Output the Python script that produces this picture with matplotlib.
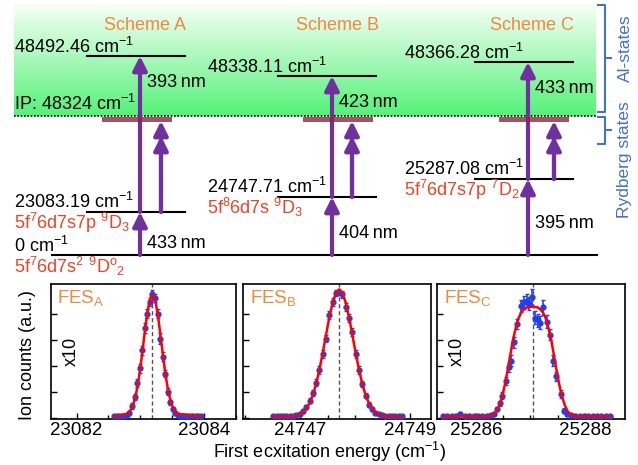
import numpy as np
import matplotlib
matplotlib.use("Agg")
import matplotlib.pyplot as plt

plt.rcParams["font.family"] = ["Liberation Sans", "DejaVu Sans"]
plt.rcParams["mathtext.fontset"] = "custom"
plt.rcParams["mathtext.rm"] = "Liberation Sans"
plt.rcParams["mathtext.it"] = "Liberation Sans:italic"
plt.rcParams["mathtext.default"] = "regular"

# ---------------- level scheme data ----------------
schemes = ["Scheme A", "Scheme B", "Scheme C"]
top_levels = [48492.46, 48338.11, 48366.28]
mid_levels = [23083.19, 24747.71, 25287.08]
ip_level = 48324
first_nm = [433, 404, 395]
second_nm = [393, 423, 433]
mid_states = [r"5f$^7$6d7s7p $^9$D$_3$", r"5f$^8$6d7s $^9$D$_3$", r"5f$^7$6d7s7p $^7$D$_2$"]
ground_state = r"5f$^7$6d7s$^2$ $^9$D$^o$$_2$"
fes_names = ["A", "B", "C"]

# ---------------- FES scan data (normalised ion counts) ----------------
xa = [23082.59, 23082.63, 23082.67, 23082.71, 23082.75, 23082.79, 23082.83, 23082.87,
      23082.91, 23082.95, 23082.99, 23083.03, 23083.07, 23083.11, 23083.15, 23083.19,
      23083.23, 23083.27, 23083.31, 23083.35, 23083.39, 23083.43, 23083.47, 23083.51,
      23083.55, 23083.59, 23083.63, 23083.67, 23083.71, 23083.75, 23083.79, 23083.83,
      23083.87, 23083.91, 23083.95]
ya = [0.01, 0.01, 0.012, 0.01, 0.013, 0.02, 0.04, 0.09, 0.16, 0.27, 0.38, 0.52,
      0.69, 0.80, 0.89, 0.95, 0.92, 0.80, 0.61, 0.47, 0.34, 0.20, 0.12, 0.07,
      0.035, 0.02, 0.015, 0.012, 0.01, 0.01, 0.01, 0.01, 0.012, 0.01, 0.01]
ea = [0.008, 0.008, 0.008, 0.008, 0.008, 0.01, 0.015, 0.02, 0.025, 0.03, 0.035, 0.035,
      0.04, 0.035, 0.03, 0.03, 0.03, 0.035, 0.04, 0.035, 0.03, 0.025, 0.02, 0.015,
      0.012, 0.01, 0.008, 0.008, 0.008, 0.008, 0.008, 0.008, 0.008, 0.008, 0.008]
fit_xa = [23082.59, 23082.80, 23082.86, 23082.90, 23082.94, 23082.98, 23083.02, 23083.06,
          23083.10, 23083.14, 23083.17, 23083.19, 23083.21, 23083.24, 23083.28, 23083.32,
          23083.36, 23083.40, 23083.44, 23083.48, 23083.52, 23083.58, 23083.95]
fit_ya = [0.01, 0.03, 0.068, 0.12, 0.20, 0.315, 0.46, 0.62, 0.774, 0.89, 0.94, 0.95,
          0.94, 0.89, 0.774, 0.62, 0.46, 0.315, 0.20, 0.12, 0.068, 0.03, 0.01]

xb = [24746.51, 24746.57, 24746.63, 24746.69, 24746.75, 24746.81, 24746.87, 24746.93,
      24746.99, 24747.05, 24747.11, 24747.17, 24747.23, 24747.29, 24747.35, 24747.41,
      24747.47, 24747.53, 24747.59, 24747.65, 24747.71, 24747.77, 24747.83, 24747.89,
      24747.95, 24748.01, 24748.07, 24748.13, 24748.19, 24748.25, 24748.31, 24748.37,
      24748.43, 24748.49, 24748.55, 24748.61, 24748.67, 24748.73, 24748.79, 24748.85]
yb = [0.01, 0.01, 0.012, 0.01, 0.01, 0.012, 0.015, 0.02, 0.03, 0.05, 0.08, 0.13,
      0.19, 0.27, 0.37, 0.49, 0.61, 0.79, 0.89, 0.96, 0.97, 0.95, 0.85, 0.77,
      0.66, 0.49, 0.37, 0.26, 0.17, 0.10, 0.07, 0.04, 0.03, 0.02, 0.012, 0.01,
      0.01, 0.01, 0.01, 0.01]
eb = [0.008, 0.008, 0.008, 0.008, 0.008, 0.008, 0.008, 0.01, 0.01, 0.012, 0.015, 0.02,
      0.02, 0.025, 0.03, 0.03, 0.03, 0.03, 0.03, 0.025, 0.025, 0.025, 0.03, 0.03,
      0.03, 0.03, 0.03, 0.025, 0.02, 0.02, 0.015, 0.012, 0.01, 0.01, 0.008, 0.008,
      0.008, 0.008, 0.008, 0.008]
fit_yb = [0.009, 0.009, 0.009, 0.009, 0.009, 0.009, 0.012, 0.017, 0.026, 0.042, 0.069, 0.112,
          0.175, 0.26, 0.37, 0.498, 0.637, 0.772, 0.885, 0.961, 0.988, 0.961, 0.885, 0.772,
          0.637, 0.498, 0.37, 0.26, 0.175, 0.112, 0.069, 0.042, 0.026, 0.017, 0.012, 0.009,
          0.009, 0.009, 0.009, 0.009]

xc = [25285.40, 25285.48, 25285.56, 25285.64, 25285.72, 25285.80, 25285.88, 25285.96,
      25286.04, 25286.12, 25286.20, 25286.27, 25286.33, 25286.39, 25286.44, 25286.48,
      25286.56, 25286.61, 25286.64, 25286.70, 25286.76, 25286.82, 25286.88, 25286.93,
      25286.98, 25287.03, 25287.09, 25287.13, 25287.18, 25287.23, 25287.30, 25287.36,
      25287.42, 25287.47, 25287.55, 25287.61, 25287.67, 25287.74, 25287.82, 25287.90,
      25287.98, 25288.06, 25288.14, 25288.22, 25288.30, 25288.38, 25288.46]
yc = [0.01, 0.012, 0.01, 0.015, 0.03, 0.01, 0.015, 0.01, 0.012, 0.01, 0.015, 0.02,
      0.03, 0.067, 0.11, 0.17, 0.28, 0.39, 0.44, 0.58, 0.72, 0.86, 0.89, 0.90,
      0.88, 0.93, 0.77, 0.75, 0.73, 0.85, 0.74, 0.64, 0.44, 0.32, 0.18, 0.054,
      0.03, 0.02, 0.015, 0.01, 0.012, 0.01, 0.012, 0.01, 0.012, 0.01, 0.01]
ec = [0.01, 0.01, 0.01, 0.01, 0.012, 0.01, 0.01, 0.01, 0.01, 0.01, 0.01, 0.01,
      0.012, 0.015, 0.02, 0.025, 0.03, 0.035, 0.04, 0.04, 0.04, 0.045, 0.05, 0.05,
      0.05, 0.06, 0.05, 0.05, 0.05, 0.06, 0.05, 0.045, 0.04, 0.035, 0.03, 0.02,
      0.015, 0.01, 0.01, 0.01, 0.01, 0.01, 0.01, 0.01, 0.01, 0.01, 0.01]
fit_xc = [25285.40, 25286.18, 25286.28, 25286.33, 25286.38, 25286.43, 25286.48, 25286.53,
          25286.58, 25286.63, 25286.68, 25286.73, 25286.78, 25286.83, 25286.88, 25286.93,
          25287.03, 25287.13, 25287.18, 25287.23, 25287.28, 25287.33, 25287.38, 25287.43,
          25287.48, 25287.53, 25287.58, 25287.63, 25287.68, 25287.73, 25287.78, 25287.88,
          25288.46]
fit_yc = [0.01, 0.01, 0.016, 0.027, 0.05, 0.095, 0.16, 0.25, 0.36, 0.48, 0.60, 0.69,
          0.765, 0.81, 0.835, 0.85, 0.855, 0.85, 0.835, 0.81, 0.765, 0.69, 0.60, 0.48,
          0.36, 0.25, 0.16, 0.095, 0.05, 0.027, 0.016, 0.01, 0.01]

scan_x = [xa, xb, xc]
scan_y = [ya, yb, yc]
scan_e = [ea, eb, ec]
fit_x = [fit_xa, xb, fit_xc]
fit_y = [fit_ya, fit_yb, fit_yc]
centres = [23083.19, 24747.71, 25287.05]
xlims = [(23081.6, 23084.5), (24745.96, 24749.38), (25285.29, 25288.73)]
xlabels = [(23082, 23084), (24747, 24749), (25286, 25288)]
scaled = [True, False, True]

# ---------------- layout of the schematic (pixel units) ----------------
line_x0 = [87, 278, 475]
line_w = 98
text_x = [14, 207, 404]
arrow_x = [140, 332, 528]
double_x = [161, 352, 554]
y_top = [56, 76, 62]
y_mid = [212, 197, 179]
y_ground = 255
y_ip = 116
band_x = [102, 303, 499]
nm1_y = [248, 238, 228]
nm2_y = [87, 107, 93]
scheme_cx = [145, 337, 532]

purple = "#7030A0"
orange = "#F0883E"
red_txt = "#EA4325"
blue_txt = "#4472C4"
fs = 13

fig = plt.figure(figsize=(6.38, 4.65), dpi=100)
ov = fig.add_axes([0, 0, 1, 1])
ov.set_xlim(0, 638)
ov.set_ylim(465, 0)
ov.axis("off")

# green gradient box for the autoionizing region
t = np.linspace(0, 1, 200)[:, None]
top_c = np.array([0.97, 1.0, 0.97])
bot_c = np.array([0.33, 0.95, 0.47])
grad = (1 - t)[:, :, None] * top_c + t[:, :, None] * bot_c
grad = np.repeat(grad, 2, axis=1)
ov.imshow(grad, extent=[14, 596, y_ip, 5], aspect="auto", zorder=0)
ov.plot([14, 596], [y_ip, y_ip], color="black", lw=1.2, ls=(0, (1, 1)), zorder=2)
ov.text(14, 110, "IP: %d cm$^{-1}$" % ip_level, fontsize=fs, va="baseline")

# ground level
ov.plot([52, 597], [y_ground, y_ground], color="black", lw=1.5)
ov.text(14, 252, "0 cm$^{-1}$", fontsize=fs, va="baseline")
ov.text(14, 273, ground_state, fontsize=fs, color=red_txt, va="baseline")


def arrow(x, y0, y1):
    ov.annotate("", xy=(x, y1), xytext=(x, y0),
                arrowprops=dict(arrowstyle="-|>,head_length=0.6,head_width=0.3",
                                color=purple, lw=3, shrinkA=0, shrinkB=0,
                                mutation_scale=14), zorder=4)


for i in range(3):
    ov.text(scheme_cx[i], 30, schemes[i], fontsize=fs, color=orange,
            ha="center", va="baseline")
    # levels
    ov.plot([line_x0[i], line_x0[i] + line_w], [y_top[i]] * 2, color="black", lw=1.5)
    ov.plot([line_x0[i], line_x0[i] + line_w], [y_mid[i]] * 2, color="black", lw=1.5)
    ov.text(text_x[i], y_top[i] - 3, "%.2f cm$^{-1}$" % top_levels[i],
            fontsize=fs, va="baseline")
    ov.text(text_x[i], y_mid[i] - 4, "%.2f cm$^{-1}$" % mid_levels[i],
            fontsize=fs, va="baseline")
    ov.text(text_x[i], y_mid[i] + 17, mid_states[i], fontsize=fs,
            color=red_txt, va="baseline")
    # Rydberg band
    ov.add_patch(plt.Rectangle((band_x[i], y_ip + 1), 70, 5, color="#8a2a3c",
                               alpha=0.8, lw=0, zorder=5))
    # excitation arrows
    arrow(arrow_x[i], y_ground, y_mid[i])
    arrow(arrow_x[i], y_mid[i], y_top[i])
    arrow(double_x[i], y_mid[i], y_ip + 5)
    arrow(double_x[i], y_mid[i], y_ip + 20)
    ov.text(arrow_x[i] + 7, nm1_y[i], "%d\u2009nm" % first_nm[i], fontsize=fs,
            va="baseline")
    ov.text(arrow_x[i] + 7, nm2_y[i], "%d\u2009nm" % second_nm[i], fontsize=fs,
            va="baseline")

# brackets on the right
ov.plot([598, 605, 605, 598], [5, 5, 112, 112], color=blue_txt, lw=1.5)
ov.plot([605, 611], [58, 58], color=blue_txt, lw=1.5)
ov.plot([598, 605, 605, 598], [117, 117, 144, 144], color=blue_txt, lw=1.5)
ov.plot([605, 611], [130, 130], color=blue_txt, lw=1.5)
ov.text(625, 48, "Al-states", rotation=90, fontsize=12.5, color=blue_txt,
        ha="center", va="center")
ov.text(625, 160, "Rydberg states", rotation=90, fontsize=12.5, color=blue_txt,
        ha="center", va="center")

# axis titles of the scan panels
ov.text(27, 355, "Ion counts (a.u.)", rotation=90, fontsize=13, ha="center", va="center")
ov.text(330, 452, "First ecxitation energy (cm$^{-1}$)", fontsize=13,
        ha="center", va="center")

# ---------------- FES scan panels ----------------
panel_left = [51, 243, 437]
panel_w = [185, 188, 188]
for i in range(3):
    ax = fig.add_axes([panel_left[i] / 638, 46 / 465, panel_w[i] / 638, 135 / 465])
    ax.errorbar(scan_x[i], scan_y[i], yerr=scan_e[i], fmt="o", ms=3.5,
                color="#2040F0", ecolor="#2040F0", elinewidth=1.2, capsize=1.5,
                zorder=3)
    ax.plot(fit_x[i], fit_y[i], color="red", lw=1.8, zorder=4)
    ax.axvline(centres[i], color="#555555", lw=1, ls=(0, (3, 2)), zorder=2)
    ax.set_xticks(list(xlabels[i]))
    ax.set_xticklabels([str(v) for v in xlabels[i]])
    ax.set_xticks(np.arange(xlabels[i][0] - 1, xlabels[i][1] + 1.5, 0.5), minor=True)
    ax.set_yticks([0, 0.2, 0.4, 0.6, 0.8])
    ax.set_yticklabels([])
    ax.set_xlim(*xlims[i])
    ax.set_ylim(-0.01, 1.03)
    ax.tick_params(direction="in", length=4, width=1, labelsize=13.5, pad=2.5)
    ax.tick_params(which="minor", direction="in", length=3, width=1)
    ax.tick_params(axis="y", which="minor", left=False)
    for s in ax.spines.values():
        s.set_linewidth(1.2)
    ax.text(0.035, 0.97, "FES$_%s$" % fes_names[i], transform=ax.transAxes,
            fontsize=13.5, color=orange, va="top")
    if scaled[i]:
        ax.text(0.11, 0.5, "x10", transform=ax.transAxes, rotation=90,
                fontsize=13, ha="center", va="center")

fig.savefig("out.png", dpi=100)
